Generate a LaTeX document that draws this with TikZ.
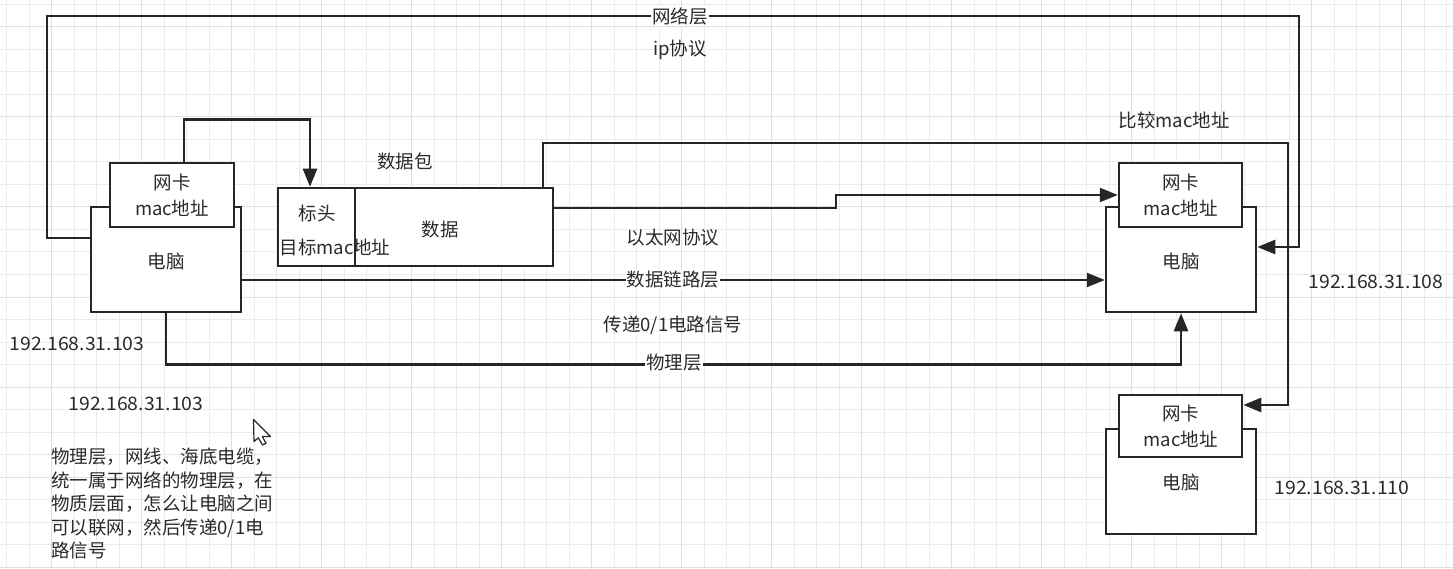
\documentclass[tikz,border=0pt]{standalone}
\usepackage{fontspec}
\setmainfont{Noto Sans CJK SC}
\usetikzlibrary{arrows.meta,calc}
\definecolor{ink}{HTML}{262626}
\definecolor{txt}{HTML}{2A2A2A}
\definecolor{gridminor}{HTML}{EBEBEB}
\definecolor{gridmajor}{HTML}{E0E0E0}
\begin{document}
\begin{tikzpicture}[x=1pt,y=-1pt,
  box/.style={draw=ink,line width=2.5pt,fill=white,inner sep=0pt,text=txt,align=center,
    font=\fontsize{18.5}{26}\selectfont},
  conn/.style={draw=ink,line width=2.5pt},
  arr/.style={conn,-{Triangle[length=18pt,width=14pt]}},
  lbl/.style={text=txt,font=\fontsize{18.5}{23.5}\selectfont,inner sep=1pt},
  onl/.style={lbl,fill=white},
]
\useasboundingbox (0,0) rectangle (1453,569);
\fill[white] (0,0) rectangle (1453,569);
% grid
\foreach \k in {0,...,64} \draw[gridminor,line width=1pt] ({6.7+22.5*\k},0) -- ({6.7+22.5*\k},569);
\foreach \k in {0,...,25} \draw[gridminor,line width=1pt] (0,{4.5+22.5*\k}) -- (1453,{4.5+22.5*\k});
\foreach \k in {0,...,15} \draw[gridmajor,line width=1pt] ({51.7+90*\k},0) -- ({51.7+90*\k},569);
\foreach \k in {0,...,6} \draw[gridmajor,line width=1pt] (0,{27+90*\k}) -- (1453,{27+90*\k});

% left computer
\node[box,minimum width=150pt,minimum height=105pt] (pcLb) at (166,259.5) {};
\node[box,minimum width=124pt,minimum height=64pt] (nicL) at (172,195) {网卡\\mac地址};
\node[lbl] (pcLt) at (166,262) {电脑};

% right top computer
\node[box,minimum width=150pt,minimum height=105pt] (pcRb) at (1181,259.5) {};
\node[box,minimum width=123pt,minimum height=64pt] (nicR) at (1180.5,195) {网卡\\mac地址};
\node[lbl] (pcRt) at (1181,262) {电脑};

% right bottom computer
\node[box,minimum width=150pt,minimum height=105pt] (pcBb) at (1181,481.5) {};
\node[box,minimum width=123pt,minimum height=62pt] (nicB) at (1180.5,426) {网卡\\mac地址};
\node[lbl] (pcBt) at (1181,483) {电脑};

% packet
\node[box,minimum width=77pt,minimum height=78pt] (hdr) at (316.5,227) {};
\node[box,minimum width=198pt,minimum height=78pt] (data) at (454,227) {};
\node[lbl] (hdrt) at (317,213) {标头};
\node[lbl] (dst) at (335,247) {目标mac地址};
\node[lbl] (datat) at (440,229) {数据};
\node[lbl] (pkt) at (405,161) {数据包};

% connectors
\coordinate (netL) at (47,16);
\coordinate (netR) at (1299,16);
\draw[arr] ($(pcLb.west)+(0,-21.5)$) -| (netL) -- (netR) |- ($(pcRb.east)+(0,-12.5)$);

\draw[arr] ($(nicL.north)+(12,0)$) |- ($(hdr.north)+(-6.5,-67)$) -- ($(hdr.north)+(-6.5,0)$);

\coordinate (cmpR) at (1288,143);
\draw[arr] ($(data.north)+(89,0)$) |- (cmpR) |- ($(nicB.east)+(0,-21)$);

\coordinate (jog) at (836,195);
\draw[arr] ($(data.east)+(0,-19)$) -| (jog) -- (nicR.west);

\draw[arr] ($(pcLb.east)+(0,20.5)$) -- ($(pcRb.west)+(0,20.5)$);

\draw[arr] (pcLb.south) |- ($(pcRb.south)+(0,51)$) -- (pcRb.south);

% labels
\node[onl] (lnet) at (680,16) {网络层};
\node[lbl] (lip) at (680,50) {ip协议};
\node[lbl] (lcmp) at (1174,120) {比较mac地址};
\node[lbl] (leth) at (673,238) {以太网协议};
\node[onl] (llink) at (673,280) {数据链路层};
\node[lbl] (lsig) at (673,325) {传递0/1电路信号};
\node[onl] (lphy) at (674,363) {物理层};

\node[lbl,xscale=1.05] (ip1) at (77,344) {192.168.31.103};
\node[lbl,xscale=1.05] (ip2) at (136,404) {192.168.31.103};
\node[lbl,xscale=1.05] (ip3) at (1376,282) {192.168.31.108};
\node[lbl,xscale=1.05] (ip4) at (1342,488) {192.168.31.110};

\node[lbl,anchor=north west,align=left] (note) at (50,447)
  {物理层，网线、海底电缆，\\统一属于网络的物理层，在\\物质层面，怎么让电脑之间\\可以联网，然后传递0/1电\\路信号};

% mouse cursor
\draw[ink,fill=white,line width=1.2pt,line join=round]
  (253.5,419.5) -- (254,441.5) -- (258.3,437.8) -- (262.5,445) -- (266,443.3)
  -- (262.3,436.5) -- (270.5,436.5) -- cycle;
\end{tikzpicture}
\end{document}
